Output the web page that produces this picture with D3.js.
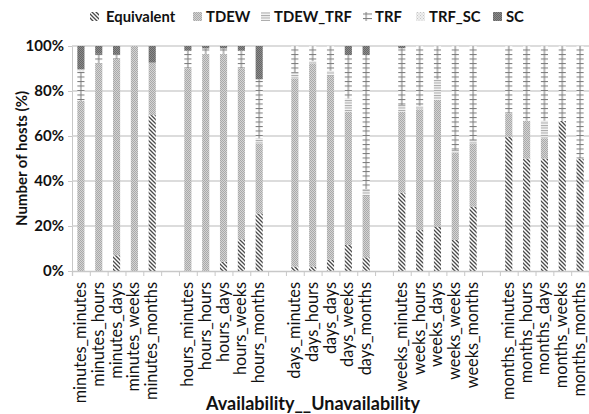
<!DOCTYPE html>
<html>
<head>
<meta charset="utf-8">
<script src="https://cdn.jsdelivr.net/npm/d3@7"></script>
<style>
  html, body { margin: 0; padding: 0; background: #fff; }
  svg { display: block; }
  text { font-family: Lato, "Open Sans", sans-serif; fill: #111; }
</style>
</head>
<body>
<svg id="chart" width="589" height="414"></svg>
<script>
// Availability / unavailability duration groups
const groups = ["minutes", "hours", "days", "weeks", "months"];
const categories = groups.flatMap(a => groups.map(u => a + "_" + u));

const seriesNames = ["Equivalent", "TDEW", "TDEW_TRF", "TRF", "TRF_SC", "SC"];

// Percent of hosts per class, one entry per category (same order as categories)
const equivalent = [0, 0, 7, 0, 69.3,   0, 0, 4.1, 14.1, 25.6,   2, 2, 5, 11.6, 6.1,   34.8, 18.2, 19.7, 13.8, 28.6,   59.7, 50, 50, 66.7, 50];
const tdew       = [75.6, 92.3, 87.2, 100, 23.3,   90.1, 96.4, 92.3, 76, 31.1,   83.6, 90.3, 81.7, 59.2, 27.2,   36, 53.7, 56.3, 38.8, 28.1,   10.4, 16.8, 9, 0, 0];
const tdewTrf    = [0, 0, 0, 0, 0,   0, 0, 0, 0, 2.3,   2.5, 1, 2.3, 5.9, 3,   3, 1.5, 9.2, 1.2, 1.5,   0, 0, 7.8, 0, 0];
const trf        = [13, 4.2, 2.2, 0, 0,   7.8, 2.5, 2.5, 7.8, 26.2,   11.9, 6.7, 11, 19.3, 59.7,   25.2, 26.6, 14.8, 46.2, 41.8,   29.9, 33.2, 33.2, 33.3, 50];
const trfSc      = [1, 0, 0, 0, 0,   0, 0, 0, 0, 0,   0, 0, 0, 0, 0,   0, 0, 0, 0, 0,   0, 0, 0, 0, 0];
const sc         = [10.4, 3.5, 3.6, 0, 7.4,   2.1, 1.1, 1.1, 2.1, 14.8,   0, 0, 0, 4, 4,   1, 0, 0, 0, 0,   0, 0, 0, 0, 0];

const yTicks = [0, 20, 40, 60, 80, 100];

const rows = categories.map((c, i) => ({
  category: c,
  slot: Math.floor(i / 5) * 6 + (i % 5),
  Equivalent: equivalent[i], TDEW: tdew[i], TDEW_TRF: tdewTrf[i],
  TRF: trf[i], TRF_SC: trfSc[i], SC: sc[i]
}));

const svg = d3.select("#chart");
const margin = { left: 72, right: 0, top: 46, bottom: 143 };
const W = 589, H = 414;
const nSlots = groups.length * 6 - 1;

const x = d3.scaleBand()
  .domain(d3.range(nSlots))
  .range([margin.left, W - margin.right])
  .paddingInner(0.6)
  .paddingOuter(0.3);
const xEdge = d3.scaleLinear().domain([0, nSlots]).range([margin.left, W - margin.right]);
const y = d3.scaleLinear().domain([0, 100]).range([H - margin.bottom, margin.top]);

// Fill patterns
const defs = svg.append("defs");
const hatch = defs.append("pattern").attr("id", "p-Equivalent")
  .attr("patternUnits", "userSpaceOnUse").attr("width", 4).attr("height", 4);
hatch.append("rect").attr("width", 4).attr("height", 4).attr("fill", "#fff");
hatch.append("path").attr("d", "M-1,-1L5,5M-1,3L1,5M3,-1L5,1")
  .attr("stroke", "#4a4a4a").attr("stroke-width", 1.3);

const tdewP = defs.append("pattern").attr("id", "p-TDEW")
  .attr("patternUnits", "userSpaceOnUse").attr("width", 2).attr("height", 2);
tdewP.append("rect").attr("width", 2).attr("height", 2).attr("fill", "#d4d4d4");
tdewP.append("rect").attr("width", 1).attr("height", 1).attr("fill", "#a9a9a9");
tdewP.append("rect").attr("x", 1).attr("y", 1).attr("width", 1).attr("height", 1).attr("fill", "#a9a9a9");

const tdewTrfP = defs.append("pattern").attr("id", "p-TDEW_TRF")
  .attr("patternUnits", "userSpaceOnUse").attr("width", 4).attr("height", 2.5);
tdewTrfP.append("rect").attr("width", 4).attr("height", 2.5).attr("fill", "#f4f4f4");
tdewTrfP.append("rect").attr("width", 4).attr("height", 1).attr("fill", "#a8a8a8");

const step = x.step();
const trfP = defs.append("pattern").attr("id", "p-TRF")
  .attr("patternUnits", "userSpaceOnUse").attr("x", margin.left).attr("y", 0)
  .attr("width", step).attr("height", 4.5);
trfP.append("rect").attr("width", step).attr("height", 4.5).attr("fill", "#fff");
trfP.append("rect").attr("y", 0).attr("width", step).attr("height", 1).attr("fill", "#7a7a7a");
trfP.append("rect").attr("x", step / 2 - 0.5).attr("width", 1).attr("height", 4.5).attr("fill", "#7a7a7a");

const trfScP = defs.append("pattern").attr("id", "p-TRF_SC")
  .attr("patternUnits", "userSpaceOnUse").attr("width", 3).attr("height", 3);
trfScP.append("rect").attr("width", 3).attr("height", 3).attr("fill", "#f0f0f0");
trfScP.append("rect").attr("width", 1).attr("height", 1).attr("fill", "#c4c4c4");
trfScP.append("rect").attr("x", 1.5).attr("y", 1.5).attr("width", 1).attr("height", 1).attr("fill", "#c4c4c4");

const scP = defs.append("pattern").attr("id", "p-SC")
  .attr("patternUnits", "userSpaceOnUse").attr("width", 2).attr("height", 2);
scP.append("rect").attr("width", 2).attr("height", 2).attr("fill", "#8c8c8c");
scP.append("rect").attr("width", 1).attr("height", 1).attr("fill", "#666");
scP.append("rect").attr("x", 1).attr("y", 1).attr("width", 1).attr("height", 1).attr("fill", "#666");

// Gridlines and y axis
const yAxis = d3.axisLeft(y).tickValues(yTicks).tickSize(4).tickFormat(d => d + "%");
const gy = svg.append("g").attr("transform", `translate(${margin.left},0)`).call(yAxis);
gy.select(".domain").attr("stroke", "#c8c8c8");
gy.selectAll(".tick line").attr("stroke", "#c8c8c8");
gy.selectAll(".tick text").attr("x", -8).attr("font-size", 15).attr("font-weight", "bold")
  .attr("font-family", "Lato, sans-serif").attr("fill", "#111");

svg.append("g").selectAll("line").data(yTicks.filter(d => d > 0)).join("line")
  .attr("x1", margin.left).attr("x2", W)
  .attr("y1", d => y(d)).attr("y2", d => y(d))
  .attr("stroke", "#d0d0d0").attr("stroke-width", 1.3);

// Stacked bars
const stack = d3.stack().keys(seriesNames)(rows);
svg.append("g").selectAll("g").data(stack).join("g")
  .attr("fill", d => `url(#p-${d.key})`)
  .selectAll("rect").data(d => d).join("rect")
  .attr("x", d => x(d.data.slot))
  .attr("width", x.bandwidth())
  .attr("y", d => y(d[1]))
  .attr("height", d => y(d[0]) - y(d[1]));

// x axis: ticks at slot boundaries, labels under each category
const xAxis = d3.axisBottom(xEdge).tickValues(d3.range(nSlots + 1)).tickSize(5).tickFormat("");
const gx = svg.append("g").attr("transform", `translate(0,${y(0)})`).call(xAxis);
gx.select(".domain").attr("stroke", "#c8c8c8").attr("stroke-width", 1.3);
gx.selectAll(".tick line").attr("stroke", "#c8c8c8");

svg.append("g").selectAll("text").data(rows).join("text")
  .attr("transform", d => `translate(${x(d.slot) + x.bandwidth() / 2 + 5},${y(0) + 11}) rotate(-90)`)
  .attr("text-anchor", "end")
  .attr("font-size", 16.3)
  .text(d => d.category);

// Axis titles
svg.append("text")
  .attr("transform", `translate(27,${(y(0) + y(100)) / 2}) rotate(-90)`)
  .attr("text-anchor", "middle").attr("font-size", 15).attr("font-weight", "bold")
  .text("Number of hosts (%)");

svg.append("text")
  .attr("x", 313).attr("y", 410)
  .attr("text-anchor", "middle").attr("font-size", 18).attr("font-weight", "bold")
  .text("Availability__Unavailability");

// Legend: swatch and label positions
const legendSwatchX = [90, 193, 261, 363, 416, 493];
const legendTextX = [106, 206, 274, 375, 429, 506];
const lg = svg.append("g").selectAll("g").data(seriesNames).join("g");
lg.append("rect").attr("x", (d, i) => legendSwatchX[i]).attr("y", 12)
  .attr("width", 9).attr("height", 9).attr("fill", d => `url(#p-${d})`);
lg.append("text").attr("x", (d, i) => legendTextX[i]).attr("y", 22)
  .attr("font-size", 14.8).attr("font-weight", "bold")
  .text(d => d);
</script>
</body>
</html>
